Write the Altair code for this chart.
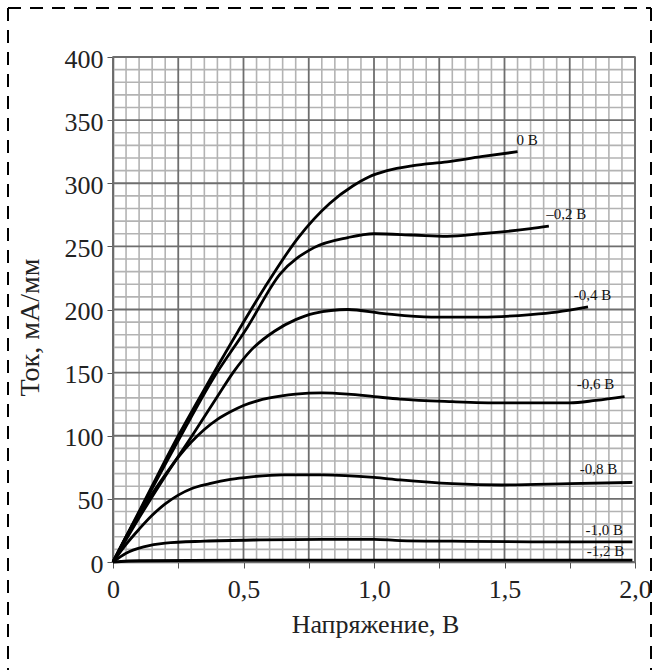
import altair as alt
import pandas as pd

# ---- curve data (voltage V, current mA/mm) ----
series_names = ["0 В", "–0,2 В", "-0,4 В", "-0,6 В", "-0,8 В", "-1,0 В", "-1,2 В"]

v_0 = [0, 0.1, 0.25, 0.37, 0.48, 0.58, 0.71, 0.83, 0.92, 0.98, 1.05, 1.15, 1.28, 1.41, 1.55]
i_0 = [0, 40, 100, 144, 183, 217, 257, 284, 298, 305, 310, 314, 317, 321, 325]

v_02 = [0, 0.1, 0.26, 0.38, 0.515, 0.64, 0.77, 0.9, 1.0, 1.15, 1.28, 1.41, 1.6, 1.67]
i_02 = [0, 39, 100, 144, 186, 228, 249, 257, 260, 259, 258, 260, 264, 266]

v_04 = [0, 0.1, 0.2, 0.3, 0.4, 0.46, 0.53, 0.62, 0.7, 0.77, 0.9, 1.03, 1.22, 1.41, 1.6, 1.7, 1.82]
i_04 = [0, 35, 68, 99, 131, 150, 168, 183, 192, 197, 200, 197, 194, 194, 196, 198, 202]

v_06 = [0, 0.05, 0.1, 0.15, 0.2, 0.25, 0.3, 0.35, 0.4, 0.45, 0.5, 0.55, 0.6, 0.7, 0.8,
        0.9, 1.0, 1.1, 1.3, 1.49, 1.75, 1.85, 1.96]
i_06 = [0, 20, 38, 54, 69, 83, 95, 105, 113, 119, 124, 127.5, 130, 133, 134,
        133, 131, 129, 127, 126, 126, 128, 131]

v_08 = [0, 0.05, 0.1, 0.15, 0.2, 0.25, 0.3, 0.37, 0.45, 0.53, 0.65, 0.8, 1.0, 1.1, 1.3,
        1.49, 1.75, 1.99]
i_08 = [0, 14, 26, 37, 46, 53, 58, 62, 65.5, 67.5, 69, 69, 67, 65, 62,
        61, 62, 63]

v_10 = [0, 0.05, 0.117, 0.2, 0.35, 0.565, 0.8, 1.0, 1.1, 1.3, 1.6, 1.99]
i_10 = [0, 7, 12, 15, 16.5, 17.5, 18, 18, 17, 16.5, 16, 16]

v_12 = [0, 0.1, 0.5, 1.0, 1.5, 1.99]
i_12 = [0, 1, 1.5, 1.5, 1.5, 1.5]

# curve labels (text anchor in data units)
label_v = [1.546, 1.66, 1.765, 1.777, 1.788, 1.81, 1.815]
label_i = [330, 272, 207.5, 137, 70, 21.4, 4.8]

# axis ticks / grid positions
x_major = [0, 0.25, 0.5, 0.75, 1.0, 1.25, 1.5, 1.75, 2.0]
x_minor = [round(0.05 * k, 2) for k in range(41) if k % 5 != 0]
y_major = [0, 50, 100, 150, 200, 250, 300, 350, 400]
y_minor = [10 * k for k in range(41) if k % 5 != 0]

all_v = [v_0, v_02, v_04, v_06, v_08, v_10, v_12]
all_i = [i_0, i_02, i_04, i_06, i_08, i_10, i_12]
rows = []
for name, vs, is_ in zip(series_names, all_v, all_i):
    for order, (v, c) in enumerate(zip(vs, is_)):
        rows.append({"series": name, "v": v, "i": c, "o": order})
df = pd.DataFrame(rows)
labels_df = pd.DataFrame({"text": series_names, "v": label_v, "i": label_i})

FONT = "Liberation Serif"
W, H = 522, 505

xs = alt.Scale(domain=[0, 2], nice=False)
ys = alt.Scale(domain=[0, 400], nice=False)

x_label_expr = (
    "datum.value == 0 ? '0' : "
    "(abs(datum.value * 2 - round(datum.value * 2)) < 1e-6 ? "
    "replace(format(datum.value, '.1f'), '.', ',') : '')"
)

x_axis = alt.Axis(
    values=x_major, labelExpr=x_label_expr, title="Напряжение, В",
    grid=False, tickSize=6, tickColor="#555", domainColor="#555",
    domainWidth=1.5, labelFont=FONT, labelFontSize=26, labelColor="#222",
    labelBaseline="alphabetic", labelPadding=29,
    titleFont=FONT, titleFontSize=26, titleFontWeight="normal",
    titleColor="#222", titleBaseline="alphabetic", titleY=70, titleX=262,
    labelFlush=False, labelOverlap=False,
)
y_axis = alt.Axis(
    values=y_major, title="Ток, мА/мм", grid=False, tickSize=6,
    tickColor="#555", domainColor="#555", domainWidth=1.5,
    labelFont=FONT, labelFontSize=26, labelColor="#222", labelPadding=4,
    labelOffset=2,
    titleFont=FONT, titleFontSize=28, titleFontWeight="normal",
    titleColor="#222", titleBaseline="alphabetic", titleX=-75, titleY=270,
    titleAngle=270, labelFlush=False, labelOverlap=False,
)

X = lambda f: alt.X(f, scale=xs, axis=x_axis)
Y = lambda f: alt.Y(f, scale=ys, axis=y_axis)

minor_x = alt.Chart(pd.DataFrame({"v": x_minor})).mark_rule(
    color="#b3b3b3", strokeWidth=1.6
).encode(x=X("v:Q"))
minor_y = alt.Chart(pd.DataFrame({"i": y_minor})).mark_rule(
    color="#b3b3b3", strokeWidth=1.6
).encode(y=Y("i:Q"))
major_x = alt.Chart(pd.DataFrame({"v": x_major})).mark_rule(
    color="#6e6e6e", strokeWidth=1.8
).encode(x=X("v:Q"))
major_y = alt.Chart(pd.DataFrame({"i": y_major})).mark_rule(
    color="#6e6e6e", strokeWidth=1.8
).encode(y=Y("i:Q"))

curves = alt.Chart(df).mark_line(
    color="black", strokeWidth=2.8, interpolate="monotone"
).encode(
    x=X("v:Q"),
    y=Y("i:Q"),
    detail="series:N",
    order="o:Q",
)

labels = alt.Chart(labels_df).mark_text(
    font=FONT, fontSize=15, color="#111", align="left", baseline="alphabetic"
).encode(
    x=X("v:Q"),
    y=Y("i:Q"),
    text="text:N",
)

# dashed frame around the whole picture (decoration)
dash = dict(color="black", strokeWidth=2, strokeDash=[13, 9])
frame_left = alt.Chart().mark_rule(**dash).encode(
    x=alt.value(-105), y=alt.value(-49), y2=alt.value(613)
)
frame_right = alt.Chart().mark_rule(**dash).encode(
    x=alt.value(538), y=alt.value(-49), y2=alt.value(613)
)
frame_top = alt.Chart().mark_rule(**dash).encode(
    x=alt.value(-105), x2=alt.value(538), y=alt.value(-49)
)

chart = alt.layer(
    minor_x, minor_y, major_x, major_y, curves, labels, frame_left, frame_right, frame_top
).properties(
    width=W, height=H,
    autosize=alt.AutoSizeParams(type="none"),
    padding={"left": 113, "top": 57, "right": 24, "bottom": 108},
    background="white",
).configure_view(
    stroke="#666", strokeWidth=1.5
).configure_axis(
    labelFont=FONT, titleFont=FONT
)

chart.save("out.html", embed_options={"renderer": "svg", "actions": False})
